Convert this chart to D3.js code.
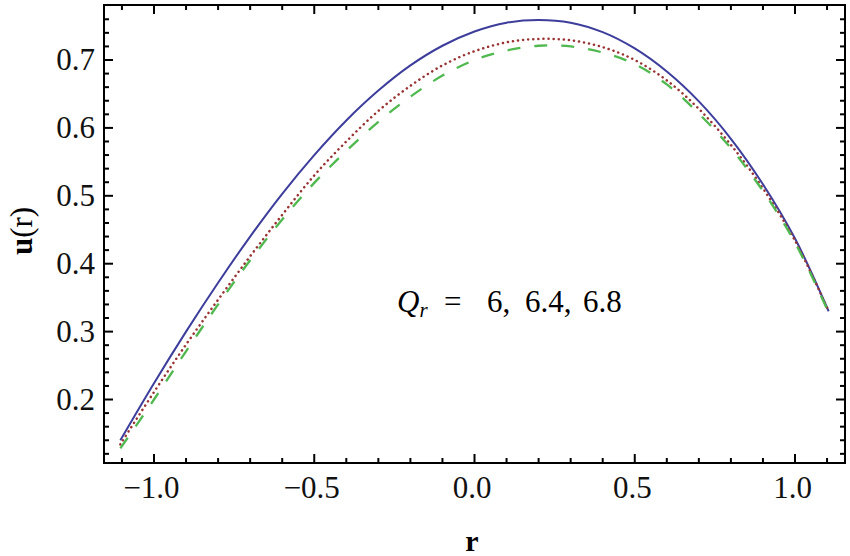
<!DOCTYPE html>
<html>
<head>
<meta charset="utf-8">
<script src="https://cdn.jsdelivr.net/npm/d3@7"></script>
<style>
html,body{margin:0;padding:0;background:#fff;}
svg{display:block;}
text{font-family:"Liberation Serif","Times New Roman",Times,serif;}
</style>
</head>
<body>
<svg id="chart" width="850" height="556"></svg>
<script>
// ---- data ----
const rValues = [-1.105, -1.0, -0.9, -0.8, -0.7, -0.6, -0.5, -0.4, -0.3, -0.2, -0.1, 0.0, 0.1, 0.2, 0.3, 0.4, 0.5, 0.6, 0.7, 0.8, 0.9, 1.0, 1.105];
const uQr6  = [0.140, 0.224, 0.300, 0.372, 0.440, 0.503, 0.560, 0.611, 0.655, 0.692, 0.721, 0.742, 0.755, 0.759, 0.755, 0.741, 0.717, 0.683, 0.639, 0.584, 0.517, 0.437, 0.330];
const uQr64 = [0.134, 0.211, 0.281, 0.347, 0.411, 0.472, 0.530, 0.580, 0.625, 0.662, 0.692, 0.713, 0.726, 0.731, 0.729, 0.719, 0.700, 0.670, 0.628, 0.575, 0.511, 0.434, 0.330];
const uQr68 = [0.128, 0.200, 0.271, 0.340, 0.405, 0.465, 0.519, 0.566, 0.609, 0.646, 0.677, 0.700, 0.714, 0.721, 0.720, 0.711, 0.694, 0.664, 0.621, 0.570, 0.507, 0.431, 0.328];
const xMajorTicks = [-1.0, -0.5, 0.0, 0.5, 1.0];
const xTickLabels = ["\u22121.0", "\u22120.5", "0.0", "0.5", "1.0"];
const yMajorTicks = [0.2, 0.3, 0.4, 0.5, 0.6, 0.7];
const yTickLabels = ["0.2", "0.3", "0.4", "0.5", "0.6", "0.7"];
const xMinorTicks = d3.range(-11, 12).map(d => d / 10);
const yMinorTicks = d3.range(6, 39).map(d => d / 50);
const annotationParts = ["6,", "6.4,", "6.8"];

const series = [
  {values: uQr6,  color: "#3d3d9c", dash: null, width: 2},
  {values: uQr64, color: "#993333", dash: "0.1,5", width: 2.5, cap: "round"},
  {values: uQr68, color: "#4fb84f", dash: "13,14", width: 2.3}
];

// ---- layout ----
const L = 104, R = 845, T = 5, B = 463;
const x = d3.scaleLinear().domain([-1.156, 1.156]).range([L, R]);
const y = d3.scaleLinear().domain([0.1065, 0.781]).range([B, T]);

const svg = d3.select("#chart");

// curves
const line = d3.line()
  .x((d, i) => x(rValues[i]))
  .y(d => y(d))
  .curve(d3.curveCatmullRom.alpha(0.5));

const plot = svg.append("g");
series.forEach(s => {
  plot.append("path")
    .attr("d", line(s.values))
    .attr("fill", "none")
    .attr("stroke", s.color)
    .attr("stroke-width", s.width)
    .attr("stroke-dasharray", s.dash)
    .attr("stroke-linecap", s.cap || "butt");
});

// ticks (inward, all four sides)
const majorLen = 9, minorLen = 5;
const tk = svg.append("g").attr("stroke", "#000").attr("stroke-width", 2);
const isMajorX = v => xMajorTicks.some(m => Math.abs(m - v) < 1e-6);
const isMajorY = v => yMajorTicks.some(m => Math.abs(m - v) < 1e-6);
xMinorTicks.forEach(v => {
  const len = isMajorX(v) ? majorLen : minorLen;
  tk.append("line").attr("x1", x(v)).attr("x2", x(v)).attr("y1", B).attr("y2", B - len);
  tk.append("line").attr("x1", x(v)).attr("x2", x(v)).attr("y1", T).attr("y2", T + len);
});
yMinorTicks.forEach(v => {
  if (y(v) < T + 1 || y(v) > B - 1) return;
  const len = isMajorY(v) ? majorLen : minorLen;
  tk.append("line").attr("y1", y(v)).attr("y2", y(v)).attr("x1", L).attr("x2", L + len);
  tk.append("line").attr("y1", y(v)).attr("y2", y(v)).attr("x1", R).attr("x2", R - len);
});

// frame
svg.append("rect")
  .attr("x", L).attr("y", T).attr("width", R - L).attr("height", B - T)
  .attr("fill", "none").attr("stroke", "#000").attr("stroke-width", 2);

// tick labels
const fs = 31;
svg.append("g").selectAll("text").data(xMajorTicks).join("text")
  .attr("x", d => x(d) - 2.5)
  .attr("y", 498)
  .attr("text-anchor", "middle")
  .attr("font-size", fs)
  .attr("fill", "#111")
  .text((d, i) => xTickLabels[i]);

svg.append("g").selectAll("text").data(yMajorTicks).join("text")
  .attr("x", 95)
  .attr("y", d => y(d) + 10)
  .attr("text-anchor", "end")
  .attr("font-size", fs)
  .attr("fill", "#111")
  .text((d, i) => yTickLabels[i]);

// axis labels
svg.append("text")
  .attr("x", 472).attr("y", 551)
  .attr("text-anchor", "middle")
  .attr("font-size", 30).attr("font-weight", "bold")
  .text("r");

const yl = svg.append("text")
  .attr("transform", "translate(32,231) rotate(-90)")
  .attr("text-anchor", "middle")
  .attr("font-size", 31);
yl.append("tspan").attr("font-weight", "bold").text("u");
yl.append("tspan").text("(r)");

// annotation
const ann = svg.append("text").attr("y", 312).attr("font-size", 31);
ann.append("tspan").attr("x", 397).attr("font-style", "italic").text("Q");
ann.append("tspan").attr("font-style", "italic").attr("font-size", 21).attr("dy", 5).text("r");
ann.append("tspan").attr("x", 444).attr("dy", -5).text("=");
const annX = [487, 525, 583];
annotationParts.forEach((p, i) => ann.append("tspan").attr("x", annX[i]).text(p));
</script>
</body>
</html>
